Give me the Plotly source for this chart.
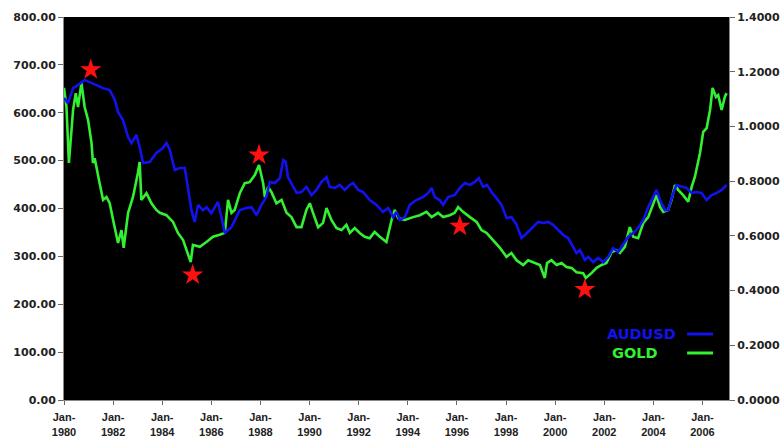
import plotly.graph_objects as go

# ---- data (x in decimal years) ----
gold_x = [1980.00, 1980.10, 1980.20, 1980.37, 1980.48, 1980.57, 1980.71, 1980.84, 1980.98, 1981.12,
          1981.18, 1981.25, 1981.45, 1981.59, 1981.73, 1981.86, 1982.00, 1982.20, 1982.34, 1982.43,
          1982.61, 1982.81, 1983.01, 1983.08, 1983.15, 1983.36, 1983.56, 1983.76, 1983.90, 1984.17,
          1984.44, 1984.64, 1984.85, 1985.05, 1985.16, 1985.25, 1985.53, 1985.80, 1986.07, 1986.34,
          1986.55, 1986.68, 1986.82, 1986.95, 1987.16, 1987.36, 1987.56, 1987.77, 1987.94, 1988.11,
          1988.18, 1988.31, 1988.45, 1988.65, 1988.86, 1989.06, 1989.26, 1989.47, 1989.67, 1989.87,
          1990.01, 1990.14, 1990.35, 1990.55, 1990.69, 1990.89, 1991.10, 1991.30, 1991.50, 1991.64,
          1991.84, 1992.04, 1992.25, 1992.45, 1992.65, 1992.86, 1993.13, 1993.34, 1993.47, 1993.61,
          1993.88, 1994.22, 1994.49, 1994.76, 1994.97, 1995.23, 1995.44, 1995.71, 1995.91, 1996.05,
          1996.25, 1996.53, 1996.80, 1997.00, 1997.21, 1997.47, 1997.75, 1998.02, 1998.22, 1998.43,
          1998.70, 1998.90, 1999.10, 1999.38, 1999.58, 1999.67, 1999.85, 2000.06, 2000.26, 2000.46,
          2000.67, 2000.87, 2001.14, 2001.25, 2001.48, 2001.69, 2001.89, 2002.09, 2002.30, 2002.50,
          2002.64, 2002.84, 2003.04, 2003.18, 2003.38, 2003.59, 2003.79, 2003.99, 2004.13, 2004.27,
          2004.40, 2004.60, 2004.74, 2004.88, 2005.01, 2005.21, 2005.42, 2005.56, 2005.69, 2005.90,
          2006.03, 2006.17, 2006.31, 2006.41, 2006.55, 2006.64, 2006.78, 2006.91, 2006.98]
gold_usd = [652, 612, 495, 606, 641, 612, 662, 612, 585, 537,
            495, 505, 453, 418, 424, 411, 376, 328, 355, 318,
            391, 424, 474, 497, 418, 432, 411, 397, 391, 386,
            372, 349, 334, 307, 288, 324, 320, 330, 341, 345,
            349, 418, 391, 397, 432, 453, 455, 470, 491, 453,
            424, 445, 434, 411, 418, 391, 382, 361, 361, 397,
            411, 391, 361, 370, 401, 376, 359, 355, 366, 349,
            359, 349, 341, 338, 351, 341, 330, 376, 397, 380,
            376, 382, 386, 393, 382, 391, 382, 386, 391, 403,
            393, 382, 372, 355, 349, 334, 318, 299, 307, 292,
            282, 292, 288, 282, 255, 286, 292, 282, 286, 278,
            276, 267, 265, 255, 265, 276, 282, 286, 309, 313,
            307, 320, 361, 341, 338, 370, 382, 411, 428, 403,
            393, 397, 418, 449, 439, 428, 414, 445, 466, 516,
            560, 568, 606, 652, 633, 637, 606, 633, 641]

aud_x = [1980.00, 1980.16, 1980.37, 1980.57, 1980.84, 1981.05, 1981.32, 1981.59, 1981.86, 1982.07,
         1982.20, 1982.40, 1982.61, 1982.75, 1982.95, 1983.08, 1983.22, 1983.49, 1983.76, 1984.03,
         1984.17, 1984.31, 1984.51, 1984.71, 1984.92, 1985.05, 1985.19, 1985.32, 1985.46, 1985.66,
         1985.80, 1986.00, 1986.14, 1986.27, 1986.41, 1986.55, 1986.82, 1986.95, 1987.16, 1987.43,
         1987.63, 1987.84, 1988.04, 1988.24, 1988.38, 1988.58, 1988.79, 1988.93, 1989.03, 1989.12,
         1989.26, 1989.47, 1989.67, 1989.87, 1990.08, 1990.28, 1990.48, 1990.69, 1990.82, 1991.03,
         1991.23, 1991.43, 1991.64, 1991.77, 1991.98, 1992.18, 1992.45, 1992.73, 1992.99, 1993.20,
         1993.40, 1993.54, 1993.67, 1993.88, 1994.08, 1994.35, 1994.62, 1994.83, 1994.97, 1995.10,
         1995.30, 1995.44, 1995.64, 1995.91, 1996.12, 1996.32, 1996.53, 1996.73, 1996.89, 1997.07,
         1997.23, 1997.41, 1997.61, 1997.82, 1998.02, 1998.22, 1998.43, 1998.63, 1998.77, 1998.90,
         1999.10, 1999.31, 1999.51, 1999.71, 1999.92, 2000.12, 2000.33, 2000.53, 2000.73, 2000.87,
         2001.01, 2001.21, 2001.35, 2001.55, 2001.75, 2001.96, 2002.16, 2002.36, 2002.57, 2002.77,
         2002.97, 2003.18, 2003.38, 2003.59, 2003.79, 2003.99, 2004.13, 2004.27, 2004.47, 2004.60,
         2004.81, 2004.94, 2005.15, 2005.35, 2005.56, 2005.76, 2005.96, 2006.17, 2006.37, 2006.58,
         2006.78, 2006.98]
audusd = [1.104, 1.085, 1.140, 1.151, 1.170, 1.162, 1.151, 1.140, 1.133, 1.097,
          1.053, 1.023, 0.961, 0.939, 0.969, 0.925, 0.866, 0.870, 0.903, 0.921,
          0.939, 0.914, 0.841, 0.848, 0.848, 0.779, 0.694, 0.651, 0.713, 0.694,
          0.705, 0.683, 0.705, 0.724, 0.669, 0.610, 0.632, 0.658, 0.694, 0.702,
          0.705, 0.676, 0.713, 0.742, 0.797, 0.793, 0.811, 0.877, 0.870, 0.815,
          0.793, 0.757, 0.760, 0.779, 0.749, 0.768, 0.797, 0.815, 0.779, 0.775,
          0.786, 0.768, 0.786, 0.793, 0.768, 0.760, 0.731, 0.713, 0.687, 0.702,
          0.669, 0.687, 0.658, 0.669, 0.713, 0.731, 0.742, 0.757, 0.775, 0.742,
          0.731, 0.713, 0.742, 0.749, 0.775, 0.793, 0.786, 0.797, 0.811, 0.779,
          0.786, 0.760, 0.738, 0.713, 0.665, 0.669, 0.640, 0.592, 0.603, 0.614,
          0.632, 0.651, 0.647, 0.651, 0.640, 0.621, 0.603, 0.592, 0.559, 0.537,
          0.548, 0.512, 0.523, 0.504, 0.519, 0.504, 0.523, 0.555, 0.541, 0.567,
          0.596, 0.610, 0.629, 0.658, 0.705, 0.742, 0.768, 0.731, 0.694, 0.694,
          0.757, 0.786, 0.779, 0.775, 0.757, 0.760, 0.757, 0.731, 0.749, 0.757,
          0.768, 0.786]

star_x = [1981.09, 1985.24, 1987.94, 1996.12, 2001.21]
star_y = [690, 261, 512, 363, 231]

x_tick_vals = [1980, 1982, 1984, 1986, 1988, 1990, 1992, 1994, 1996, 1998, 2000, 2002, 2004, 2006]
x_tick_text = ["Jan-<br>%d" % y for y in x_tick_vals]

BLUE = "#1212ee"
GREEN = "#33f033"

fig = go.Figure()
fig.add_trace(go.Scatter(x=gold_x, y=gold_usd, mode="lines", name="GOLD",
                         line=dict(color=GREEN, width=2.6), yaxis="y"))
fig.add_trace(go.Scatter(x=star_x, y=star_y, mode="markers", name="stars",
                         marker=dict(symbol="star", size=16, color="#ff1010",
                                     line=dict(width=0)), yaxis="y"))
fig.add_trace(go.Scatter(x=aud_x, y=audusd, mode="lines", name="AUDUSD",
                         line=dict(color=BLUE, width=2.6), yaxis="y2"))

axis_font = dict(family="DejaVu Sans", size=11, color="#222222", weight="bold")

fig.update_layout(
    width=781, height=438,
    margin=dict(l=64, r=52, t=17, b=38),
    paper_bgcolor="white", plot_bgcolor="black",
    showlegend=False,
    xaxis=dict(range=[1980.0, 2007.08], tickvals=x_tick_vals, ticktext=x_tick_text,
               showgrid=False, zeroline=False, showline=True, linecolor="#888888",
               ticks="outside", ticklen=4, tickcolor="#666666", automargin=False,
               ticklabelstandoff=3,
               tickfont=dict(family="Liberation Sans", size=11, color="#222222", weight="bold")),
    yaxis=dict(range=[0, 800], dtick=100, tickformat=".2f", showgrid=False, zeroline=False,
               showline=True, linecolor="#888888", ticks="outside", ticklen=5, automargin=False,
               tickcolor="#666666", tickfont=axis_font),
    yaxis2=dict(range=[0, 1.4], dtick=0.2, tickformat=".4f", overlaying="y", side="right",
                showgrid=False, zeroline=False, showline=True, linecolor="#888888",
                ticks="outside", ticklen=5, tickcolor="#666666", tickfont=axis_font,
                automargin=False),
)

# in-plot legend (text, then a short line sample to its right)
fig.add_annotation(xref="paper", yref="paper", x=0.8135, y=0.1723, xanchor="left", yanchor="middle",
                   text="AUDUSD", showarrow=False,
                   font=dict(family="DejaVu Sans", size=14.5, color=BLUE, weight="bold"))
fig.add_annotation(xref="paper", yref="paper", x=0.821, y=0.1227, xanchor="left", yanchor="middle",
                   text="GOLD", showarrow=False,
                   font=dict(family="DejaVu Sans", size=14.5, color=GREEN, weight="bold"))
fig.add_shape(type="line", xref="paper", yref="paper", x0=0.937, x1=0.976, y0=0.1723, y1=0.1723,
              line=dict(color=BLUE, width=3))
fig.add_shape(type="line", xref="paper", yref="paper", x0=0.937, x1=0.976, y0=0.1227, y1=0.1227,
              line=dict(color=GREEN, width=3))

fig.write_html("out.html", config={"displayModeBar": False},
               post_script="document.body.style.margin='0';")
